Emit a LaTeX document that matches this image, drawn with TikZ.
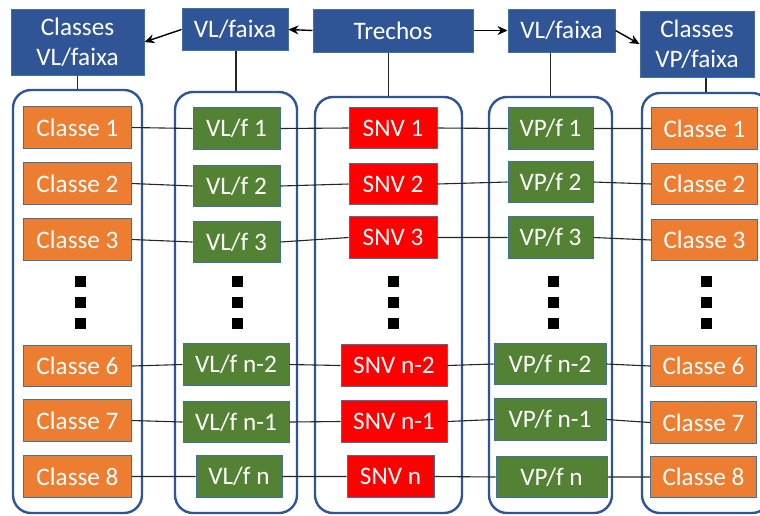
\documentclass[tikz,border=0pt]{standalone}
\usepackage{fontspec}
\setmainfont{Carlito}
\usetikzlibrary{arrows.meta,positioning}
\definecolor{hdrblue}{RGB}{47,85,151}
\definecolor{boxline}{RGB}{65,113,156}
\definecolor{clsorange}{RGB}{237,125,49}
\definecolor{vfgreen}{RGB}{84,130,53}
\definecolor{snvred}{RGB}{255,0,0}
\tikzset{
  item/.style={draw=boxline, line width=0.5pt, text=white, inner sep=0pt,
               minimum height=20.8pt, font=\fontsize{12.6}{15}\selectfont},
  hdr/.style={item, fill=hdrblue, align=center},
  cls/.style={item, fill=clsorange, minimum width=54pt},
  vf/.style={item, fill=vfgreen},
  snv/.style={item, fill=snvred},
  colbox/.style={draw=hdrblue, line width=1.2pt, rounded corners=9pt, fill=white, inner sep=0pt},
  link/.style={black!85, line width=0.55pt},
  flow/.style={-{Stealth[length=5pt,width=4.5pt]}, black, line width=0.7pt},
}

\begin{document}
\begin{tikzpicture}[x=0.5pt, y=-0.5pt]
 \clip (0,0) rectangle (760,515);
 % column frames
 \foreach \n/\x/\y/\w/\h in {k1/77.5/301.5/129/423, k2/236/302.5/122/421,
   k3/388.5/305/147/416, k4/550.5/305/123/416, k5/706/303/128/420}
  \node[colbox, minimum width=\w*0.5pt, minimum height=\h*0.5pt] (\n) at (\x,\y) {};

 % headers
 \node[hdr, minimum width=66.5pt, minimum height=33pt] (hcl) at (77.5,42) {Classes\\VL/faixa};
 \node[hdr, minimum width=53pt] (hvl) at (235,29.5) {VL/faixa};
 \node[hdr, minimum width=80pt, minimum height=21.5pt] (htr) at (393,30.5) {Trechos};
 \node[hdr, minimum width=53.5pt, minimum height=21.5pt] (hvp) at (561.5,30.5) {VL/faixa};
 \node[hdr, minimum width=57pt, minimum height=33pt] (hcp) at (697,44) {Classes\\VP/faixa};

 \draw[flow] (htr.west) -- (hvl.east);
 \draw[flow] (hvl.west) -- (hcl.east);
 \draw[flow] (htr.east) -- (hvp.west);
 \draw[flow] (hvp.east) -- (hcp.west);
 \foreach \h/\k in {hcl/k1, hvl/k2, htr/k3, hvp/k4, hcp/k5}
  \draw[link] (\h.south -| \k.north) -- (\k.north);

 % boxes, row by row
 \foreach \r/\y/\t in {1/127.5/1, 2/183.5/2, 3/239.5/3, 4/366/6, 5/420.5/7, 6/476.5/8}
  \node[cls] (cl\r) at (77.5,\y) {Classe \t};
 \foreach \r/\x/\y/\w/\t in {1/236.5/128.5/87/1, 2/236.5/186/87/2, 3/236.5/242/87/3,
   4/236/364.5/106/n-2, 5/236/422/106/n-1, 6/239/476.5/86/n}
  \node[vf, minimum width=\w*0.5pt] (vl\r) at (\x,\y) {VL/f \t};
 \foreach \r/\x/\y/\w/\t in {1/393/128/88/1, 2/393/184/88/2, 3/393/237.5/88/3,
   4/394/365.5/106/n-2, 5/394/421.5/106/n-1, 6/390.5/476.5/87/n}
  \node[snv, minimum width=\w*0.5pt] (sn\r) at (\x,\y) {SNV \t};
 \foreach \r/\x/\y/\w/\t in {1/550.5/128.5/85/1, 2/550.5/182/85/2, 3/550.5/237.5/85/3,
   4/550/364/112/n-2, 5/550/419.5/112/n-1, 6/551.5/477/111/n}
  \node[vf, minimum width=\w*0.5pt] (vp\r) at (\x,\y) {VP/f \t};
 \foreach \r/\x/\y/\t in {1/704.5/128.5/1, 2/704.5/184/2, 3/704.5/240/3,
   4/703.5/366/6, 5/703.5/422.5/7, 6/703.5/477/8}
  \node[cls, minimum width=53pt] (cp\r) at (\x,\y) {Classe \t};

 \foreach \r in {1,...,6}
  \draw[link] (cl\r.east) -- (vl\r.west) (vl\r.east) -- (sn\r.west)
              (sn\r.east) -- (vp\r.west) (vp\r.east) -- (cp\r.west);

 % vertical dots
 \foreach \x in {80,237,393,553,706}
  \foreach \y in {281,302,323}
   \fill (\x-5.5,\y-5.5) rectangle (\x+5.5,\y+5.5);
\end{tikzpicture}
\end{document}
